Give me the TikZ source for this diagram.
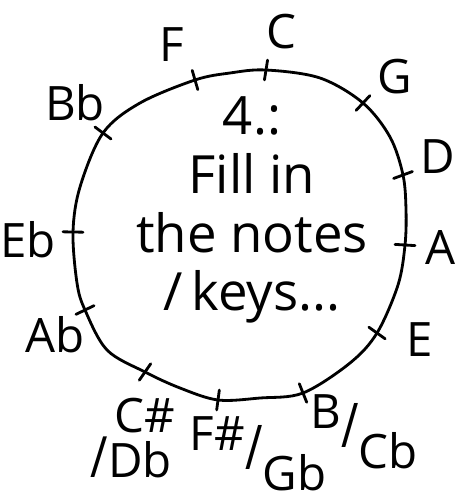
\documentclass[tikz,border=0pt]{standalone}
\usepackage{fontspec}
\setmainfont{Open Sans}
\usepackage{graphicx}
\usetikzlibrary{calc}
\newcommand{\keypair}[2]{\raisebox{0.4em}{#1}\scalebox{1}[1.3]{/}\raisebox{-0.45em}{#2}}

\begin{document}
\begin{tikzpicture}[x=0.02cm,y=-0.02cm,line width=1.6pt,line cap=round,line join=round,
 key/.style={font=\fontsize{27}{28}\selectfont,inner sep=0pt},
 note/.style={font=\fontsize{30}{33.5}\selectfont,align=center,inner sep=0pt}]
\useasboundingbox (0,0) rectangle (465,502);
\coordinate (ctr) at (240,235);
% tick points on the circle
\coordinate (tC) at (266,70);  \coordinate (tG) at (363,103); \coordinate (tD) at (403,175);
\coordinate (tA) at (405,245); \coordinate (tE) at (377,333); \coordinate (tB) at (303,393);
\coordinate (tFs) at (218,400); \coordinate (tCs) at (145,372); \coordinate (tAb) at (85,310);
\coordinate (tEb) at (73,232); \coordinate (tBb) at (103,133); \coordinate (tF) at (195,80);
\draw plot[smooth cycle,tension=0.55] coordinates {(tC) (320,78) (tG) (390,137) (tD) (406,210) (tA)
 (398,285) (tE) (350,363) (tB) (260,398) (tFs) (180,388) (tCs) (107,350) (tAb) (77,283) (tEb)
 (80,187) (tBb) (140,103) (tF) (230,73)};
\foreach \k in {C,G,D,A,E,B,Fs,Cs,Ab,Eb,Bb,F}
 \draw ($(t\k)!-0.2cm!(ctr)$) -- ($(t\k)!0.2cm!(ctr)$);
% labels
\node[key] (lC) at (281,32) {C};
\node[key] (lG) at (395,77) {G};
\node[key] (lD) at (438,157) {D};
\node[key] (lA) at (440,247) {A};
\node[key] (lE) at (420,340) {E};
\node[key] (lB) at (364,432) {\keypair{B}{Cb}};
\node[key] (lFs) at (258,454) {\keypair{F\#}{Gb}};
\node[key,align=left] (lCs) at (133,438) {\hspace{0.5em}C\#\\[-2pt]\scalebox{1}[1.2]{/}Db};
\node[key] (lAb) at (55,335) {Ab};
\node[key] (lEb) at (28,240) {Eb};
\node[key] (lBb) at (75,103) {Bb};
\node[key] (lF) at (172,45) {F};
\node[note] (task) at (252,210) {4.:\\Fill in\\the notes\\/\,keys...};
\end{tikzpicture}
\end{document}
